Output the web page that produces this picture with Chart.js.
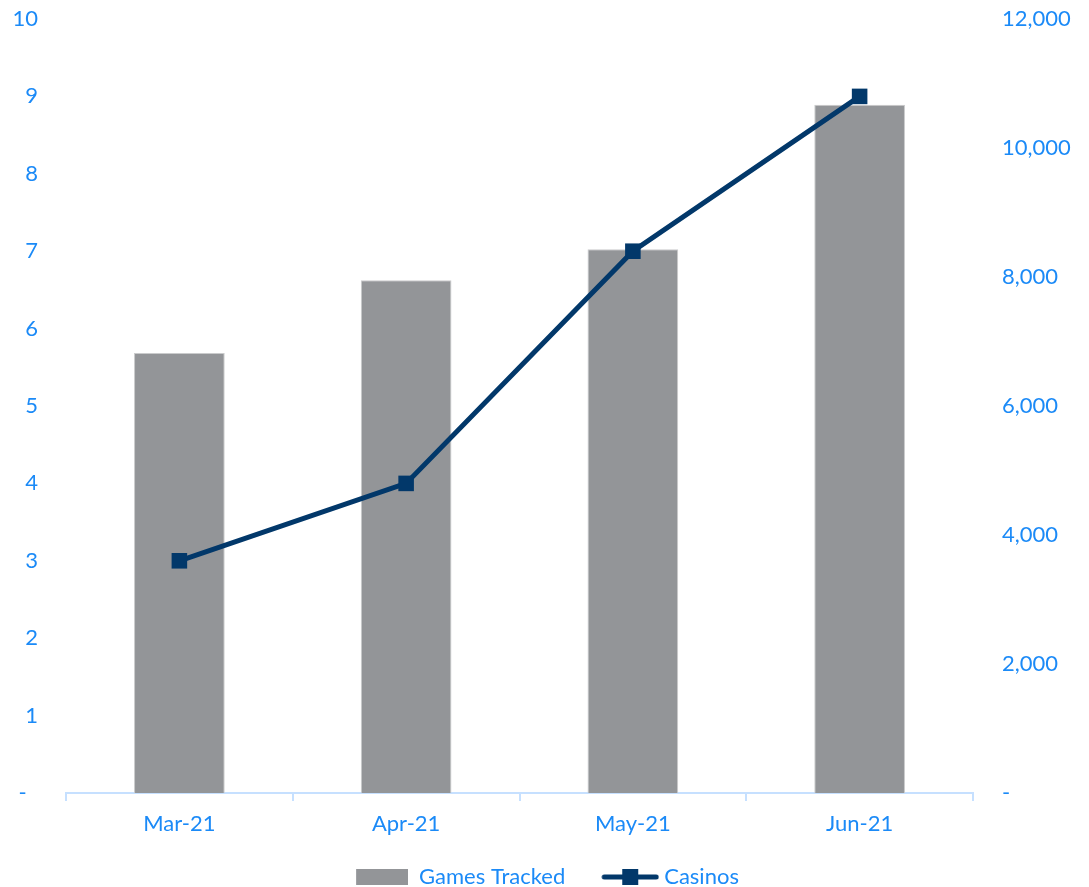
<!DOCTYPE html>
<html>
<head>
<meta charset="utf-8">
<script src="https://cdn.jsdelivr.net/npm/chart.js@4"></script>
<style>
  body { margin: 0; background: #fff; }
  #wrap { width: 1089px; height: 887px; }
</style>
</head>
<body>
<div id="wrap"><canvas id="chartCanvas" width="1089" height="887"></canvas></div>
<script>
// values
const months = ['Mar-21', 'Apr-21', 'May-21', 'Jun-21'];
const casinos = [3, 4, 7, 9];                       // left axis
const gamesTracked = [6820, 7950, 8430, 10670];     // right axis
const seriesNames = ['Games Tracked', 'Casinos'];

const tickBlue = '#1B8AF7';
const barGray = '#939598';
const navy = '#02386A';
const axisBlue = '#C6E0FF';
const fontFamily = 'Lato, "Liberation Sans", sans-serif';
const fontSize = 22;

// little icons for the legend
function makeBarIcon() {
    const c = document.createElement('canvas');
    c.width = 58; c.height = 16;
    const g = c.getContext('2d');
    g.fillStyle = barGray;
    g.fillRect(6, 0, 52, 16);
    return c;
}

function makeLineIcon() {
    const c = document.createElement('canvas');
    c.width = 70; c.height = 18;
    const g = c.getContext('2d');
    g.strokeStyle = navy;
    g.lineWidth = 5;
    g.lineCap = 'round';
    g.beginPath();
    g.moveTo(15, 9);
    g.lineTo(67, 9);
    g.stroke();
    g.fillStyle = navy;
    g.fillRect(41 - 8, 1, 16, 16);
    return c;
}

const barIcon = makeBarIcon();
const lineIcon = makeLineIcon();

// fixed axis width, and no extra room asked above/below the plot
function fixYAxis(width) {
    return (scale) => {
        scale.width = width;
        scale.paddingTop = 0;
        scale.paddingBottom = 0;
    };
}

const ctx = document.getElementById('chartCanvas').getContext('2d');

new Chart(ctx, {
    type: 'bar',
    data: {
        labels: months,
        datasets: [
            {
                type: 'line',
                label: seriesNames[1],
                data: casinos,
                yAxisID: 'yLeft',
                borderColor: navy,
                backgroundColor: navy,
                borderWidth: 5,
                tension: 0,
                pointStyle: 'rect',
                pointRadius: 11,
                pointHoverRadius: 11,
                pointBorderWidth: 0,
                pointBackgroundColor: navy
            },
            {
                type: 'bar',
                label: seriesNames[0],
                data: gamesTracked,
                yAxisID: 'yRight',
                backgroundColor: barGray,
                borderColor: '#CACBCC',
                borderWidth: 1,
                barPercentage: 0.4,
                categoryPercentage: 1.0
            }
        ]
    },
    options: {
        responsive: false,
        animation: false,
        layout: { padding: { top: 19, left: 0, right: 0, bottom: 0 } },
        font: { family: fontFamily, size: fontSize },
        scales: {
            x: {
                grid: {
                    display: true,
                    drawOnChartArea: false,
                    drawTicks: true,
                    tickLength: 8,
                    offset: true,
                    color: axisBlue,
                    lineWidth: 2
                },
                border: { display: true, color: axisBlue, width: 2 },
                ticks: {
                    color: tickBlue,
                    padding: 10,
                    font: { family: fontFamily, size: fontSize }
                },
                afterFit: (scale) => { scale.height = 43; }
            },
            yLeft: {
                position: 'left',
                min: 0,
                max: 10,
                grid: { display: false, drawTicks: false },
                border: { display: false },
                ticks: {
                    stepSize: 1,
                    color: tickBlue,
                    padding: 28,
                    font: { family: fontFamily, size: fontSize },
                    callback: (v) => v === 0 ? '-  ' : v
                },
                afterFit: fixYAxis(66)
            },
            yRight: {
                position: 'right',
                min: 0,
                max: 12000,
                grid: { display: false, drawTicks: false },
                border: { display: false },
                ticks: {
                    stepSize: 2000,
                    color: tickBlue,
                    padding: 29,
                    font: { family: fontFamily, size: fontSize },
                    callback: (v) => v === 0 ? '-' : v.toLocaleString('en-US')
                },
                afterFit: fixYAxis(116)
            }
        },
        plugins: {
            tooltip: { enabled: false },
            legend: {
                position: 'bottom',
                maxHeight: 51,
                labels: {
                    usePointStyle: true,
                    pointStyleWidth: 58,
                    padding: 30,
                    color: tickBlue,
                    font: { family: fontFamily, size: fontSize },
                    generateLabels: (chart) => [
                        {
                            text: seriesNames[0],
                            pointStyle: barIcon,
                            datasetIndex: 1,
                            fillStyle: barGray,
                            strokeStyle: barGray,
                            lineWidth: 0,
                            fontColor: tickBlue,
                            hidden: !chart.isDatasetVisible(1)
                        },
                        {
                            text: seriesNames[1],
                            pointStyle: lineIcon,
                            datasetIndex: 0,
                            fillStyle: navy,
                            strokeStyle: navy,
                            lineWidth: 0,
                            fontColor: tickBlue,
                            hidden: !chart.isDatasetVisible(0)
                        }
                    ]
                }
            }
        }
    }
});
</script>
</body>
</html>
